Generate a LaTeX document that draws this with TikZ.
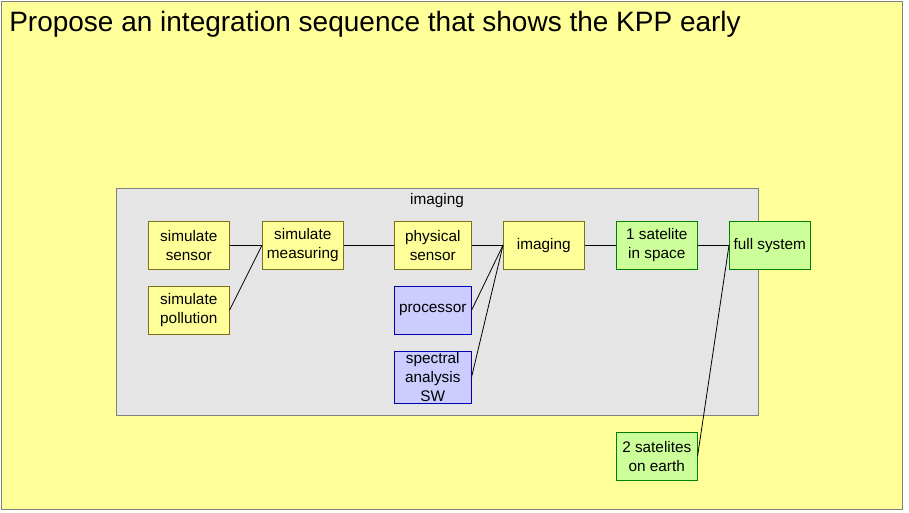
\documentclass[tikz,border=0pt]{standalone}
\usepackage{fontspec}
\setmainfont{Liberation Sans}
\definecolor{bgy}{HTML}{FFFF99}
\definecolor{boxy}{HTML}{FFFF99}
\definecolor{boxb}{HTML}{CCCCFF}
\definecolor{boxg}{HTML}{CCFF99}
\definecolor{grp}{HTML}{E5E5E5}
\begin{document}
\begin{tikzpicture}[x=0.75pt,y=-0.75pt,
  box/.style={draw=#1!60!black, minimum width=60.75pt, minimum height=36pt, inner sep=1pt, align=center, font=\fontsize{11.5}{14.2}\selectfont, anchor=north west},
  yb/.style={box=olive, fill=boxy, draw=olive!80!black},
  bb/.style={box=blue, fill=boxb, draw=blue!70!black},
  gb/.style={box=green, fill=boxg, draw=green!50!black},
  ln/.style={draw=black, line width=0.6pt}]
\useasboundingbox (0,0) rectangle (909,512);
\node[draw=gray, fill=bgy, minimum width=675.75pt, minimum height=381pt, anchor=north west, inner sep=0] (bg) at (1,1) {};
\node[anchor=west, font=\fontsize{21}{24}\selectfont, inner sep=0] (title) at (9,24) {Propose an integration sequence that shows the KPP early};
\node[draw=gray, fill=grp, minimum width=481.5pt, minimum height=170.25pt, anchor=north west, inner sep=0] (grp) at (116,188) {};
\node[font=\fontsize{11.5}{14}\selectfont] (glabel) at (437,201) {imaging};
\node[yb] (ss) at (148,221) {simulate\\sensor};
\node[yb] (sp) at (148,286) {simulate\\pollution};
\node[yb] (sm) at (262,221) {simulate\\measuring};
\node[yb, minimum width=57.75pt] (ps) at (394,221) {physical\\sensor};
\node[bb, minimum width=57.75pt] (pr) at (394,286) {processor};
\node[bb, minimum width=57.75pt] (sa) at (394,351) {spectral\\analysis\\SW};
\node[yb] (im) at (503,221) {imaging};
\node[gb] (s1) at (616,221) {1 satelite\\in space};
\node[gb] (fs) at (729,221) {full system};
\node[gb] (s2) at (616,432) {2 satelites\\on earth};
\draw[ln] (ss.east) -- (sm.west);
\draw[ln] (sp.east) -- (sm.west);
\draw[ln] (sm.east) -- (ps.west);
\draw[ln] (ps.east) -- (im.west);
\draw[ln] (pr.east) -- (im.west);
\draw[ln] (sa.east) -- (im.west);
\draw[ln] (im.east) -- (s1.west);
\draw[ln] (s1.east) -- (fs.west);
\draw[ln] (s2.east) -- (fs.west);
\end{tikzpicture}
\end{document}
